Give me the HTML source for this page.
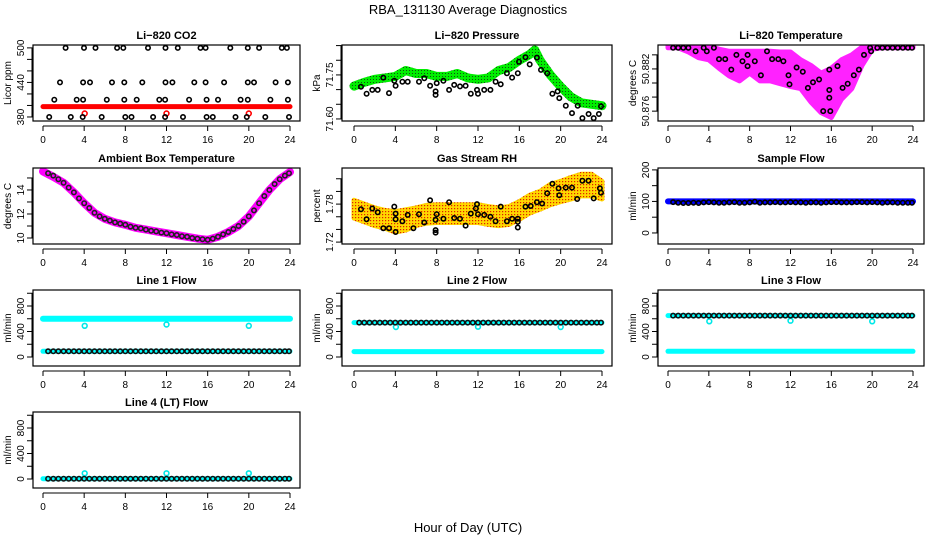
<!DOCTYPE html>
<html><head><meta charset="utf-8">
<style>
html,body{margin:0;padding:0;background:#fff;}
svg{display:block;font-family:"Liberation Sans",Arial,sans-serif;}
</style></head>
<body>
<svg id="chart" xmlns="http://www.w3.org/2000/svg" width="936" height="540" viewBox="0 0 936 540">
<defs>
<pattern id="greenDots" width="3" height="3" patternUnits="userSpaceOnUse"><rect width="3" height="3" fill="#00ee00"/><rect x="1" y="1" width="1" height="1" fill="#105010"/></pattern>
<pattern id="orangeDots" width="3" height="3" patternUnits="userSpaceOnUse"><rect width="3" height="3" fill="#ffd800"/><rect x="1" y="1" width="1.2" height="1.2" fill="#e02000"/></pattern>
</defs>
<text x="468" y="14" text-anchor="middle" font-size="13">RBA_131130  Average Diagnostics</text>
<text x="468" y="532" text-anchor="middle" font-size="13">Hour of Day (UTC)</text>
</svg>
<script>
// ---------- data ----------
const H48 = [0.5,1,1.5,2,2.5,3,3.5,4,4.5,5,5.5,6,6.5,7,7.5,8,8.5,9,9.5,10,10.5,11,11.5,12,12.5,13,13.5,14,14.5,15,15.5,16,16.5,17,17.5,18,18.5,19,19.5,20,20.5,21,21.5,22,22.5,23,23.5,23.9];
const HOURS24 = [0,1,2,3,4,5,6,7,8,9,10,11,12,13,14,15,16,17,18,19,20,21,22,23,24];
const BAND_ENDS = [0,24];
const OUTLIER_HOURS = [4.05,12,20];
const X_TICKS = [0,4,8,12,16,20,24];

// CO2
const co2Hours = [2.2,3.98,5.1,7.2,7.8,10.2,11.9,13.1,15.3,15.8,18.2,19.9,21.0,23.2,23.7,
  1.65,3.9,4.57,6.7,7.9,9.65,11.9,12.57,14.7,15.8,17.6,19.9,20.5,22.6,23.8,
  1.1,3.27,3.9,6.2,7.9,9.1,11.3,11.86,14.2,15.9,17.0,19.2,19.9,22.1,23.8,
  0.6,2.7,3.86,5.7,8.0,8.6,10.7,11.86,13.6,15.9,16.5,18.7,19.8,21.6,23.9];
const co2Vals = [500,500,500,500,500,500,500,500,500,500,500,500,500,500,500,
  440,440,440,440,440,440,440,440,440,440,440,440,440,440,440,
  410,410,410,410,410,410,410,410,410,410,410,410,410,410,410,
  380,380,380,380,380,380,380,380,380,380,380,380,380,380,380];
const co2BandVals = [398,398];
const co2OutVals = [386,386,386];

// Pressure
const presHours = [0.68,1.22,1.77,2.29,2.84,3.39,3.9,4.03,4.68,5.2,6.29,6.8,7.36,7.9,7.9,8.0,8.65,9.2,9.7,10.26,10.8,11.3,11.9,12.0,12.6,13.2,13.7,14.2,14.8,15.3,15.85,15.97,16.6,17.0,17.7,18.1,18.7,19.2,19.7,19.87,20.5,21.1,21.65,22.1,22.7,23.2,23.7,23.9];
const presVals = [71.710,71.686,71.699,71.699,71.741,71.688,71.730,71.713,71.727,71.727,71.727,71.739,71.713,71.694,71.682,71.722,71.730,71.699,71.716,71.711,71.713,71.686,71.699,71.686,71.699,71.699,71.727,71.718,71.756,71.741,71.756,71.795,71.810,71.786,71.809,71.767,71.756,71.686,71.694,71.671,71.645,71.620,71.645,71.603,71.617,71.603,71.617,71.643];
const presBandHours = [0,1,2,3,4,5,6,7,8,9,10,11,12,13,14,15,16,17,17.5,18,19,20,21,22,23,24];
const presBandVals = [71.712,71.725,71.735,71.740,71.745,71.765,71.755,71.755,71.745,71.745,71.755,71.740,71.735,71.740,71.765,71.775,71.800,71.820,71.835,71.800,71.750,71.710,71.675,71.655,71.650,71.645];

// Li-820 temperature
const tempHours = [0.5,1,1.5,2,2.7,3.5,3.8,4.5,5.0,5.6,6.2,6.7,7.3,7.8,7.8,8.5,9.1,9.7,10.2,10.8,11.3,11.8,11.9,12.6,13.2,13.7,14.2,14.8,15.2,15.8,15.8,15.8,15.9,16.6,17.1,17.6,18.2,18.7,19.2,19.8,19.9,20.5,21,21.5,22,22.5,23,23.5,23.9];
const tempVals = [50.8850,50.8850,50.8850,50.8850,50.8845,50.8850,50.8845,50.8850,50.8834,50.8834,50.8819,50.8840,50.8831,50.8840,50.8824,50.8831,50.8811,50.8845,50.8834,50.8834,50.8831,50.8811,50.8798,50.8822,50.8816,50.8793,50.8801,50.8805,50.8760,50.8819,50.8790,50.8779,50.8760,50.8824,50.8793,50.8799,50.8811,50.8819,50.8840,50.8850,50.8845,50.8850,50.8850,50.8850,50.8850,50.8850,50.8850,50.8850,50.8850];
const tempBandTop = [50.8853,50.8853,50.8853,50.8853,50.8853,50.8848,50.8845,50.8845,50.8845,50.8845,50.8845,50.8844,50.8844,50.8833,50.8825,50.8814,50.8821,50.8833,50.8840,50.8851,50.8853,50.8853,50.8853,50.8853,50.8853];
const tempBandBot = [50.8850,50.8850,50.8844,50.8836,50.8833,50.8821,50.8810,50.8803,50.8814,50.8803,50.8803,50.8799,50.8795,50.8792,50.8773,50.8758,50.8751,50.8777,50.8792,50.8825,50.8848,50.8850,50.8850,50.8850,50.8850];

// Ambient box temperature
const ambBandVals = [15.55,15.1,14.6,13.8,12.9,12.1,11.6,11.3,11.1,10.85,10.7,10.55,10.4,10.25,10.1,9.95,9.85,10.1,10.5,11.0,11.8,12.9,14.0,14.9,15.5];
const ambVals = [15.4,15.2,14.9,14.6,14.2,13.8,13.3,12.9,12.5,12.1,11.8,11.6,11.45,11.3,11.2,11.1,10.95,10.85,10.8,10.7,10.6,10.55,10.45,10.4,10.3,10.25,10.15,10.1,10.0,9.95,9.9,9.85,9.95,10.1,10.3,10.5,10.75,11.0,11.35,11.8,12.3,12.9,13.5,14.0,14.5,14.9,15.2,15.4];

// Gas stream RH
const rhHours = [0.68,1.22,1.77,2.29,2.84,3.39,3.9,4.03,4.03,4.03,4.68,5.2,5.75,6.29,6.8,7.36,7.9,7.9,7.9,8.0,8.65,9.2,9.7,10.26,10.8,11.3,11.8,11.9,12.0,12.6,13.2,13.7,14.2,14.8,15.3,15.85,15.85,15.85,16.6,17.1,17.7,18.2,18.7,19.2,19.8,19.87,20.5,21.1,21.6,22.1,22.7,23.2,23.8,23.9];
const rhVals = [1.772,1.756,1.773,1.767,1.742,1.742,1.776,1.765,1.756,1.736,1.753,1.763,1.742,1.764,1.751,1.786,1.755,1.739,1.735,1.764,1.757,1.783,1.758,1.757,1.746,1.765,1.773,1.780,1.764,1.763,1.760,1.753,1.776,1.753,1.757,1.757,1.752,1.743,1.776,1.777,1.783,1.781,1.797,1.812,1.805,1.794,1.806,1.806,1.788,1.817,1.817,1.789,1.805,1.798];
const rhBandVals = [1.772,1.766,1.760,1.756,1.752,1.755,1.760,1.764,1.765,1.765,1.765,1.765,1.765,1.762,1.760,1.762,1.770,1.780,1.786,1.795,1.800,1.805,1.810,1.810,1.802];
const rhBandHalf = [0.014,0.014,0.014,0.014,0.016,0.016,0.014,0.014,0.014,0.014,0.014,0.014,0.014,0.014,0.014,0.014,0.014,0.014,0.014,0.016,0.016,0.017,0.017,0.017,0.014];

// Sample flow
const sampleBandVals = [100,100];
const sampleVals = [98,96,95,95,96,95,97,98,97,96,96,97,98,96,96,97,99,96,97,97,98,97,97,98,97,97,96,97,97,96,97,98,98,97,97,97,98,98,97,98,97,96,97,97,96,96,96,96];

// Line flows
const line1BandVals = [600,600];
const line1LowVals = [90,90];
const line1OutVals = [490,510,490];
const line1Vals = [90,90,90,90,90,90,90,90,90,90,90,90,90,90,90,90,90,90,90,90,90,90,90,90,90,90,90,90,90,90,90,90,90,90,90,90,90,90,90,90,90,90,90,90,90,90,90,90];
const line2BandVals = [85,85];
const line2OutVals = [470,475,470];
const line2Vals = [540,540,540,540,540,540,540,540,540,540,540,540,540,540,540,540,540,540,540,540,540,540,540,540,540,540,540,540,540,540,540,540,540,540,540,540,540,540,540,540,540,540,540,540,540,540,540,540];
const line3BandVals = [650,650];
const line3LowVals = [90,90];
const line3OutVals = [560,570,560];
const line3Vals = [650,650,650,650,650,650,650,650,650,650,650,650,650,650,650,650,650,650,650,650,650,650,650,650,650,650,650,650,650,650,650,650,650,650,650,650,650,650,650,650,650,650,650,650,650,650,650,650];
const line4BandVals = [5,5];
const line4OutVals = [90,90,90];
const line4Vals = [5,5,5,5,5,5,5,5,5,5,5,5,5,5,5,5,5,5,5,5,5,5,5,5,5,5,5,5,5,5,5,5,5,5,5,5,5,5,5,5,5,5,5,5,5,5,5,5];

// ---------- layout ----------
const NS = "http://www.w3.org/2000/svg";
const svg = document.getElementById('chart');
const COLS = [{l:33,r:300,x0:43,x24:290},{l:342,r:612,x0:354,x24:602},{l:658,r:924,x0:668,x24:913}];
const ROWS = [{t:45,b:121},{t:168,b:244},{t:290,b:366},{t:412,b:488}];

function mk(tag, attrs, parent){
  const e = document.createElementNS(NS, tag);
  for (const k in attrs) e.setAttribute(k, attrs[k]);
  (parent||svg).appendChild(e);
  return e;
}

function panel(col,row,key,title,ylab,ymin,ymax,ticks,labels){
  const C = COLS[col], R = ROWS[row];
  const g = mk('g',{});
  
  
  const xs = h => C.x0 + h*(C.x24-C.x0)/24;
  const ys = v => R.b - (v-ymin)/(ymax-ymin)*(R.b-R.t);
  const t = mk('text',{x:(C.l+C.r)/2,y:R.t-6,'text-anchor':'middle','font-size':11,'font-weight':'bold'},g);
  t.textContent = title;
  
  
  const yl = mk('text',{x:0,y:0,transform:`translate(${C.l-22},${(R.t+R.b)/2}) rotate(-90)`,'text-anchor':'middle','font-size':10},g);
  yl.textContent = ylab;
  
  
  // x axis
  const xa = mk('g',{},g);
  
  
  mk('line',{x1:xs(0),x2:xs(24),y1:R.b+5,y2:R.b+5,stroke:'#000','stroke-width':1},xa);
  X_TICKS.forEach(h=>{
    mk('line',{x1:xs(h),x2:xs(h),y1:R.b+5,y2:R.b+10,stroke:'#000','stroke-width':1},xa);
    const lb = mk('text',{x:xs(h),y:R.b+22,'text-anchor':'middle','font-size':10},xa);
    lb.textContent = h;
    
    
  });
  // y axis
  const ya = mk('g',{},g);
  
  
  mk('line',{x1:C.l-1,x2:C.l-1,y1:ys(ticks[0]),y2:ys(ticks[ticks.length-1]),stroke:'#000','stroke-width':1},ya);
  ticks.forEach(v=>{
    mk('line',{x1:C.l-6,x2:C.l,y1:ys(v),y2:ys(v),stroke:'#000','stroke-width':1},ya);
  });
  labels.forEach(v=>{
    const lb = mk('text',{x:0,y:0,transform:`translate(${C.l-9},${ys(v)}) rotate(-90)`,'text-anchor':'middle','font-size':10},ya);
    lb.textContent = v;
    
    
  });
  // clip
  const cp = mk('clipPath',{id:'clip-'+key},g);
  mk('rect',{x:C.l,y:R.t,width:C.r-C.l,height:R.b-R.t},cp);
  const plot = mk('g',{'clip-path':`url(#clip-${key})`},g);
  
  
  const box = mk('rect',{x:C.l,y:R.t,width:C.r-C.l,height:R.b-R.t,fill:'none',stroke:'#000','stroke-width':1.2},g);
  
  
  return {xs,ys,plot,key};
}

function band(P, hours, vals, color, width, name){
  const d = hours.map((h,i)=>(i?'L':'M')+P.xs(h).toFixed(1)+','+P.ys(vals[i]).toFixed(1)).join(' ');
  const p = mk('path',{d:d,fill:'none',stroke:color,'stroke-width':width,'stroke-linecap':'round','stroke-linejoin':'round'},P.plot);
  
  
}
function area(P, hours, top, bot, fill, name){
  let d = hours.map((h,i)=>(i?'L':'M')+P.xs(h).toFixed(1)+','+P.ys(top[i]).toFixed(1)).join(' ');
  for (let i=hours.length-1;i>=0;i--) d += ' L'+P.xs(hours[i]).toFixed(1)+','+P.ys(bot[i]).toFixed(1);
  const p = mk('path',{d:d+' Z',fill:fill,stroke:fill,'stroke-width':5,'stroke-linejoin':'round'},P.plot);
  
  
}
function points(P, hours, vals, color, r, name){
  hours.forEach((h,i)=>{
    const c = mk('circle',{cx:P.xs(h).toFixed(1),cy:P.ys(vals[i]).toFixed(1),r:r,fill:'none',stroke:color,'stroke-width':1.6},P.plot);
    
    
  });
}

// ---------- panels ----------
const pCO2 = panel(0,0,'co2','Li\u2212820 CO2','Licor ppm',373,505,[380,400,420,440,460,480,500],[380,440,500]);
band(pCO2, BAND_ENDS, co2BandVals, '#ff0000', 5, 'co2-red-band');
points(pCO2, OUTLIER_HOURS, co2OutVals, '#ff0000', 2.4, 'co2-red-point');
points(pCO2, co2Hours, co2Vals, '#000', 2.2, 'co2-point');

const pP = panel(1,0,'pressure','Li\u2212820 Pressure','kPa',71.593,71.852,[71.60,71.65,71.70,71.75,71.80,71.85],['71.60','71.75']);
band(pP, presBandHours, presBandVals, 'url(#greenDots)', 9, 'pressure-green-band');
points(pP, presHours, presVals, '#000', 2.2, 'pressure-point');

const pT = panel(2,0,'li820-temp','Li\u2212820 Temperature','degrees C',50.8746,50.8854,[50.876,50.878,50.880,50.882,50.884],['50.876','50.882']);
area(pT, HOURS24, tempBandTop, tempBandBot, '#ff22ff', 'li820-temp-magenta-band');
points(pT, tempHours, tempVals, '#000', 2.2, 'li820-temp-point');

const pA = panel(0,1,'ambient','Ambient Box Temperature','degrees C',9.5,15.83,[10,11,12,13,14,15],[10,12,14]);
band(pA, HOURS24, ambBandVals, '#ff00ff', 8, 'ambient-magenta-band');
points(pA, H48, ambVals, '#222', 2.2, 'ambient-point');

const pR = panel(1,1,'rh','Gas Stream RH','percent',1.717,1.837,[1.72,1.74,1.76,1.78,1.80,1.82],['1.72','1.78']);
area(pR, HOURS24, rhBandVals.map((v,i)=>v+rhBandHalf[i]), rhBandVals.map((v,i)=>v-rhBandHalf[i]), 'url(#orangeDots)', 'rh-orange-band');
points(pR, rhHours, rhVals, '#000', 2.2, 'rh-point');

const pS = panel(2,1,'sample-flow','Sample Flow','ml/min',-35,206,[0,50,100,150,200],[0,100,200]);
band(pS, BAND_ENDS, sampleBandVals, '#0000ff', 6, 'sample-flow-blue-band');
points(pS, H48, sampleVals, '#000', 2.2, 'sample-flow-point');

const FT = [0,200,400,600,800,1000], FL = [0,400,800];
const p1 = panel(0,2,'line1','Line 1 Flow','ml/min',-141,1051,FT,FL);
band(p1, BAND_ENDS, line1BandVals, '#00ffff', 6, 'line1-cyan-band');
band(p1, BAND_ENDS, line1LowVals, '#00ffff', 5, 'line1-cyan-low-band');
points(p1, OUTLIER_HOURS, line1OutVals, '#00e8e8', 2.4, 'line1-outlier');
points(p1, H48, line1Vals, '#111', 2.2, 'line1-point');

const p2 = panel(1,2,'line2','Line 2 Flow','ml/min',-141,1051,FT,FL);
band(p2, BAND_ENDS, line2BandVals, '#00ffff', 5, 'line2-cyan-band');
band(p2, BAND_ENDS, [540,540], '#00ffff', 5, 'line2-cyan-high-band');
points(p2, OUTLIER_HOURS, line2OutVals, '#00e8e8', 2.4, 'line2-outlier');
points(p2, H48, line2Vals, '#111', 2.2, 'line2-point');

const p3 = panel(2,2,'line3','Line 3 Flow','ml/min',-141,1051,FT,FL);
band(p3, BAND_ENDS, line3BandVals, '#00ffff', 5, 'line3-cyan-band');
band(p3, BAND_ENDS, line3LowVals, '#00ffff', 5, 'line3-cyan-low-band');
points(p3, OUTLIER_HOURS, line3OutVals, '#00e8e8', 2.4, 'line3-outlier');
points(p3, H48, line3Vals, '#111', 2.2, 'line3-point');

const p4 = panel(0,3,'line4','Line 4 (LT) Flow','ml/min',-141,1051,FT,FL);
band(p4, BAND_ENDS, line4BandVals, '#00ffff', 5, 'line4-cyan-band');
points(p4, OUTLIER_HOURS, line4OutVals, '#00e8e8', 2.4, 'line4-outlier');
points(p4, H48, line4Vals, '#111', 2.2, 'line4-point');
</script>
</body></html>
